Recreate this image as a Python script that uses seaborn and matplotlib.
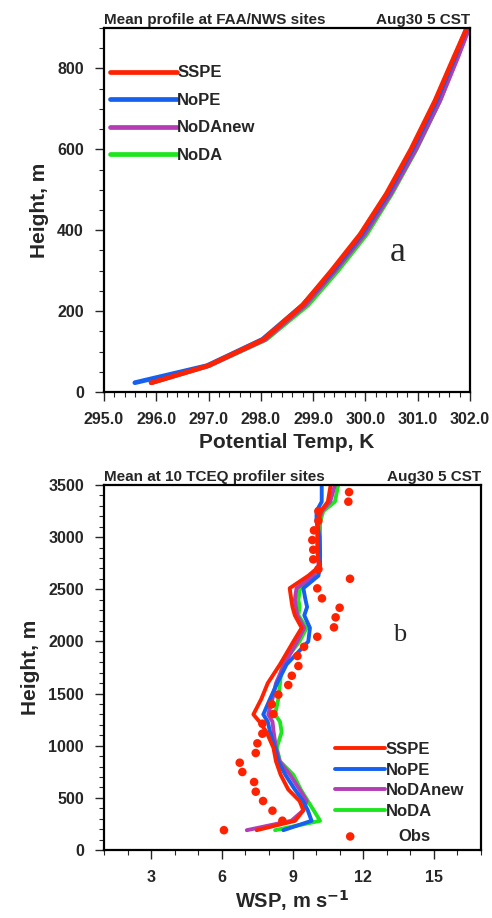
import matplotlib
matplotlib.use("Agg")
import matplotlib.pyplot as plt
from matplotlib.ticker import MultipleLocator, FormatStrFormatter
import seaborn as sns
import pandas as pd

# ---- panel a: mean potential temperature profile, FAA/NWS sites
hgt_a = [23, 65, 130, 215, 300, 390, 490, 600, 720, 830, 900]
th_sspe = [295.91, 296.99, 298.05, 298.80, 299.35, 299.90, 300.40, 300.87, 301.33, 301.70, 301.94]
th_nope = [295.59, 296.97, 298.03, 298.80, 299.38, 299.93, 300.43, 300.90, 301.36, 301.72, 301.94]
th_nodanew = [295.90, 297.00, 298.08, 298.85, 299.42, 299.98, 300.48, 300.96, 301.42, 301.77, 301.98]
th_noda = [295.90, 297.00, 298.10, 298.90, 299.47, 300.02, 300.50, 300.97, 301.42, 301.76, 301.97]

# ---- panel b: mean wind speed at 10 TCEQ profiler sites
hgt_b = [190, 280, 380, 470, 580, 720, 850, 980, 1130, 1230, 1300, 1450, 1600, 1780,
         2000, 2130, 2250, 2330, 2400, 2510, 2630, 2720, 2860, 3000, 3150, 3250, 3340, 3500]
ws_sspe = [7.48, 9.11, 9.46, 9.30, 8.82, 8.50, 8.30, 8.19, 7.90, 7.60, 7.34, 7.68, 7.95, 8.47,
           9.04, 9.39, 9.10, 9.00, 8.95, 8.88, 9.67, 10.14, 10.05, 10.05, 10.05, 10.20, 10.50, 10.62]
ws_nope = [8.61, 9.81, 9.65, 9.45, 9.10, 8.70, 8.40, 8.26, 8.05, 7.95, 7.76, 8.05, 8.35, 8.75,
           9.67, 9.74, 9.50, 9.62, 9.55, 9.46, 10.10, 10.17, 10.17, 10.15, 10.02, 10.02, 10.24, 10.24]
ws_nodanew = [7.06, 8.95, 9.46, 9.60, 9.30, 8.90, 8.45, 8.30, 8.20, 8.15, 7.97, 8.15, 8.30, 8.65,
              9.20, 9.50, 9.20, 9.15, 9.10, 9.17, 9.90, 10.10, 10.10, 10.10, 10.10, 10.25, 10.60, 10.80]
ws_noda = [8.26, 10.17, 9.90, 9.65, 9.35, 9.04, 8.47, 8.33, 8.54, 8.47, 8.26, 8.40, 8.47, 8.55,
           9.30, 9.60, 9.25, 9.30, 9.25, 9.32, 9.88, 10.17, 10.17, 10.17, 10.17, 10.31, 10.80, 10.94]

obs_hgt = [190, 281, 377, 470, 559, 652, 748, 837, 930, 1023, 1115, 1211, 1304, 1397, 1490,
           1582, 1671, 1764, 1860, 1949, 2045, 2135, 2231, 2323, 2413, 2509, 2601, 2694, 2787,
           2879, 2972, 3065, 3157, 3250, 3340, 3432]
obs_ws = [6.09, 8.57, 8.15, 7.75, 7.44, 7.37, 6.87, 6.76, 7.44, 7.51, 7.72, 7.72, 8.19, 8.12, 8.40,
          8.82, 8.97, 9.25, 9.21, 9.49, 10.05, 10.76, 10.83, 11.00, 10.25, 10.05, 11.44, 10.10, 9.88,
          9.88, 9.84, 9.91, 10.10, 10.10, 11.37, 11.40]

runs = ["SSPE", "NoPE", "NoDAnew", "NoDA"]
colors = {"SSPE": "#ff2200", "NoPE": "#1560f0", "NoDAnew": "#b43cb4", "NoDA": "#1ee61e"}
theta = {"SSPE": th_sspe, "NoPE": th_nope, "NoDAnew": th_nodanew, "NoDA": th_noda}
wsp = {"SSPE": ws_sspe, "NoPE": ws_nope, "NoDAnew": ws_nodanew, "NoDA": ws_noda}

sns.set_style("ticks")
plt.rcParams['font.family'] = ['Liberation Sans', 'DejaVu Sans']
plt.rcParams['font.weight'] = 'bold'
plt.rcParams['axes.labelweight'] = 'bold'

fig = plt.figure(figsize=(4.92, 9.18), dpi=100)
ax1 = fig.add_axes([104 / 492, 1 - 392 / 918, 366 / 492, 364 / 918])
ax2 = fig.add_axes([104 / 492, 1 - 850 / 918, 377 / 492, 365 / 918])


def style_axes(ax):
    for s in ax.spines.values():
        s.set_linewidth(1.6)
        s.set_color("black")
    ax.tick_params(which="major", direction="out", length=6.5, width=1.0, pad=8,
                   labelsize=11.5, top=False, right=False)
    ax.tick_params(which="minor", direction="out", length=3.5, width=0.8,
                   top=False, right=False)
    for lab in ax.get_xticklabels() + ax.get_yticklabels():
        lab.set_fontweight("bold")


# panel a
df_a = pd.DataFrame({r: theta[r] for r in runs})
df_a["hgt"] = hgt_a
for r in runs[::-1]:
    sns.lineplot(data=df_a, x=r, y="hgt", sort=False, orient="y", estimator=None,
                 color=colors[r], lw=3.4, solid_capstyle="round", label=r,
                 legend=False, ax=ax1)
ax1.set_xlim(295, 302)
ax1.set_ylim(0, 900)
ax1.xaxis.set_major_locator(MultipleLocator(1))
ax1.xaxis.set_minor_locator(MultipleLocator(0.2))
ax1.xaxis.set_major_formatter(FormatStrFormatter("%.1f"))
ax1.yaxis.set_major_locator(MultipleLocator(200))
ax1.yaxis.set_minor_locator(MultipleLocator(50))
style_axes(ax1)
ax1.set_xlabel("Potential Temp, K", fontsize=15, fontweight="bold", labelpad=4)
ax1.set_ylabel("Height, m", fontsize=15, fontweight="bold", labelpad=6)
ax1.set_title("Mean profile at FAA/NWS sites", loc="left", fontsize=11, fontweight="bold", pad=3)
ax1.set_title("Aug30 5 CST", loc="right", fontsize=11, fontweight="bold", pad=3)
h, l = ax1.get_legend_handles_labels()
ax1.legend(h[::-1], l[::-1], loc="upper left", bbox_to_anchor=(0.016, 0.897), frameon=False,
           borderpad=0, borderaxespad=0, handlelength=4.0, handletextpad=0.05,
           labelspacing=0.75, prop={"size": 12, "weight": "bold"})
ax1.text(300.62, 344, "a", fontsize=26, family="Liberation Serif", fontweight="normal",
         ha="center", va="center")

# panel b
df_b = pd.DataFrame({r: wsp[r] for r in runs})
df_b["hgt"] = hgt_b
for r in runs[::-1]:
    sns.lineplot(data=df_b, x=r, y="hgt", sort=False, orient="y", estimator=None,
                 color=colors[r], lw=2.8, label=r, legend=False, ax=ax2)
sns.scatterplot(x=obs_ws, y=obs_hgt, color=colors["SSPE"], s=38, edgecolor="none",
                ax=ax2, label="Obs", legend=False, zorder=5)
ax2.set_xlim(1, 17)
ax2.set_ylim(0, 3500)
ax2.xaxis.set_major_locator(MultipleLocator(3))
ax2.xaxis.set_minor_locator(MultipleLocator(1))
ax2.yaxis.set_major_locator(MultipleLocator(500))
ax2.yaxis.set_minor_locator(MultipleLocator(100))
style_axes(ax2)
ax2.set_xlabel("WSP, m s$^{\\mathbf{-1}}$", fontsize=14.5, fontweight="bold", labelpad=2)
ax2.set_ylabel("Height, m", fontsize=15, fontweight="bold", labelpad=6)
ax2.set_title("Mean at 10 TCEQ profiler sites", loc="left", fontsize=11, fontweight="bold", pad=3)
ax2.set_title("Aug30 5 CST", loc="right", fontsize=11, fontweight="bold", pad=3)
h, l = ax2.get_legend_handles_labels()
lines_h = h[:4][::-1]
lines_l = l[:4][::-1]
leg = ax2.legend(lines_h, lines_l, loc="upper left", bbox_to_anchor=(0.613, 0.295), frameon=False,
                 borderpad=0, borderaxespad=0, handlelength=3.0, handletextpad=0.05,
                 labelspacing=0.33, prop={"size": 12, "weight": "bold"})
ax2.add_artist(leg)
ax2.legend([h[4]], [l[4]], loc="upper left", bbox_to_anchor=(0.60, 0.058), frameon=False,
           borderpad=0, borderaxespad=0, handlelength=2.4, handletextpad=1.7,
           prop={"size": 12, "weight": "bold"})
ax2.text(13.56, 2061, "b", fontsize=19, family="Liberation Serif", fontweight="normal",
         ha="center", va="center")

fig.savefig("out.png", dpi=100)
